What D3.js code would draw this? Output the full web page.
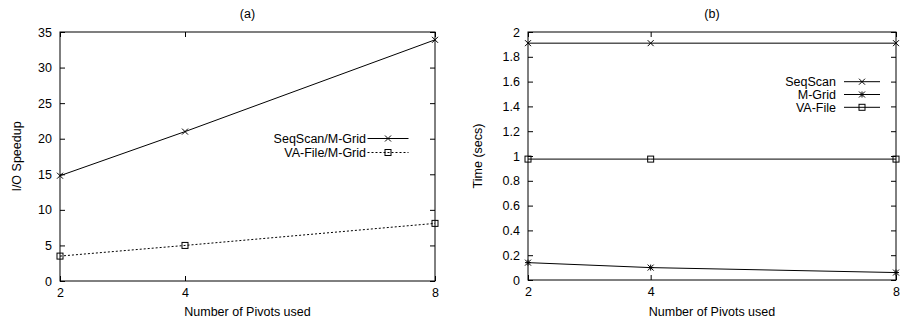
<!DOCTYPE html>
<html>
<head>
<meta charset="utf-8">
<script src="https://cdn.jsdelivr.net/npm/d3@7"></script>
<style>
  body { margin: 0; background: #fff; }
  svg { display: block; font-family: "Liberation Sans", Arial, sans-serif; }
</style>
</head>
<body>
<svg id="chart" width="904" height="322"></svg>
<script>
// Pivot counts on the x axis (shared by both panels)
const pivots = [2, 4, 8];

// Panel (a): I/O speedup relative to M-Grid
const seqScanSpeedup = [14.8, 21.0, 33.9];
const vaFileSpeedup  = [3.5, 5.0, 8.1];
const speedupTicks   = [0, 5, 10, 15, 20, 25, 30, 35];

// Panel (b): query time in seconds
const seqScanTime = [1.91, 1.91, 1.91];
const mGridTime   = [0.14, 0.10, 0.06];
const vaFileTime  = [0.975, 0.975, 0.975];
const timeTicks   = [0, 0.2, 0.4, 0.6, 0.8, 1, 1.2, 1.4, 1.6, 1.8, 2];

const svg = d3.select("#chart");
const FONT = 12.5;

// Gnuplot-style point symbols
function drawMarker(g, type, x, y) {
  const s = 3;
  const p = g.append("g").attr("stroke", "#000").attr("stroke-width", 1).attr("fill", "none");
  if (type === "cross" || type === "star") {
    p.append("path").attr("d", `M${x - s},${y - s}L${x + s},${y + s}M${x - s},${y + s}L${x + s},${y - s}`);
  }
  if (type === "star") {
    p.append("path").attr("d", `M${x - s},${y}L${x + s},${y}M${x},${y - s}L${x},${y + s}`);
  }
  if (type === "square") {
    p.append("rect").attr("x", x - s).attr("y", y - s).attr("width", 2 * s).attr("height", 2 * s);
  }
}

function panel(opts) {
  const { left, right, top, bottom, yMax, yTicks, yFmt, series, title, yLabel, legend } = opts;
  const x = d3.scaleLinear().domain([2, 8]).range([left, right]);
  const y = d3.scaleLinear().domain([0, yMax]).range([bottom, top]);
  const g = svg.append("g");

  // Ticks drawn inward on all four sides
  const tl = 5;
  g.append("g").attr("transform", `translate(${left},0)`)
    .call(d3.axisLeft(y).tickValues(yTicks).tickSize(-tl).tickPadding(8).tickFormat(yFmt))
    .call(a => a.select(".domain").remove());
  g.append("g").attr("transform", `translate(${right},0)`)
    .call(d3.axisRight(y).tickValues(yTicks).tickSize(-tl).tickFormat(""))
    .call(a => a.select(".domain").remove());
  g.append("g").attr("transform", `translate(0,${bottom})`)
    .call(d3.axisBottom(x).tickValues(pivots).tickSize(-tl).tickPadding(7).tickFormat(d3.format("d")))
    .call(a => a.select(".domain").remove());
  g.append("g").attr("transform", `translate(0,${top})`)
    .call(d3.axisTop(x).tickValues(pivots).tickSize(-tl).tickFormat(""))
    .call(a => a.select(".domain").remove());
  g.selectAll(".tick text").attr("font-size", FONT).attr("font-family", "Liberation Sans, Arial, sans-serif").attr("fill", "#000");
  g.selectAll(".tick line").attr("stroke", "#000");

  g.append("rect").attr("x", left).attr("y", top).attr("width", right - left).attr("height", bottom - top)
    .attr("fill", "none").attr("stroke", "#000").attr("stroke-width", 1);

  const line = d3.line().x((d, i) => x(pivots[i])).y(d => y(d));
  series.forEach(s => {
    g.append("path").datum(s.values).attr("d", line).attr("fill", "none")
      .attr("stroke", "#000").attr("stroke-width", 1)
      .attr("stroke-dasharray", s.dash || null);
    s.values.forEach((v, i) => drawMarker(g, s.marker, x(pivots[i]), y(v)));
  });

  // Legend: right-aligned labels with a line sample and symbol
  series.forEach((s, i) => {
    const ly = legend.y + i * legend.dy;
    g.append("text").attr("x", legend.x).attr("y", ly).attr("dy", "0.35em")
      .attr("text-anchor", "end").attr("font-size", FONT).text(s.name);
    const x1 = legend.x + legend.gap, x2 = x1 + legend.len;
    g.append("line").attr("x1", x1).attr("x2", x2)
      .attr("y1", ly).attr("y2", ly).attr("stroke", "#000").attr("stroke-dasharray", s.dash || null);
    drawMarker(g, s.marker, (x1 + x2) / 2, ly);
  });

  svg.append("text").attr("x", (left + right) / 2).attr("y", 18).attr("text-anchor", "middle")
    .attr("font-size", FONT).text(title);
  svg.append("text").attr("x", (left + right) / 2).attr("y", 316).attr("text-anchor", "middle")
    .attr("font-size", FONT).text("Number of Pivots used");
  svg.append("text").attr("transform", `translate(${opts.yLabelX},${(top + bottom) / 2}) rotate(-90)`)
    .attr("text-anchor", "middle").attr("font-size", FONT).text(yLabel);
}

panel({
  left: 60, right: 435, top: 32, bottom: 281, yMax: 35,
  yTicks: speedupTicks, yFmt: d3.format("d"),
  title: "(a)", yLabel: "I/O Speedup", yLabelX: 21,
  series: [
    { name: "SeqScan/M-Grid", values: seqScanSpeedup, marker: "cross" },
    { name: "VA-File/M-Grid", values: vaFileSpeedup, marker: "square", dash: "2,2" }
  ],
  legend: { x: 366, y: 138.5, dy: 14, gap: 1.5, len: 41 }
});

panel({
  left: 528, right: 896, top: 32, bottom: 280, yMax: 2,
  yTicks: timeTicks, yFmt: d => d3.format("")(+d.toFixed(1)),
  title: "(b)", yLabel: "Time (secs)", yLabelX: 482,
  series: [
    { name: "SeqScan", values: seqScanTime, marker: "cross" },
    { name: "M-Grid", values: mGridTime, marker: "star" },
    { name: "VA-File", values: vaFileTime, marker: "square" }
  ],
  legend: { x: 836, y: 81.7, dy: 12.8, gap: 8, len: 36 }
});
</script>
</body>
</html>
